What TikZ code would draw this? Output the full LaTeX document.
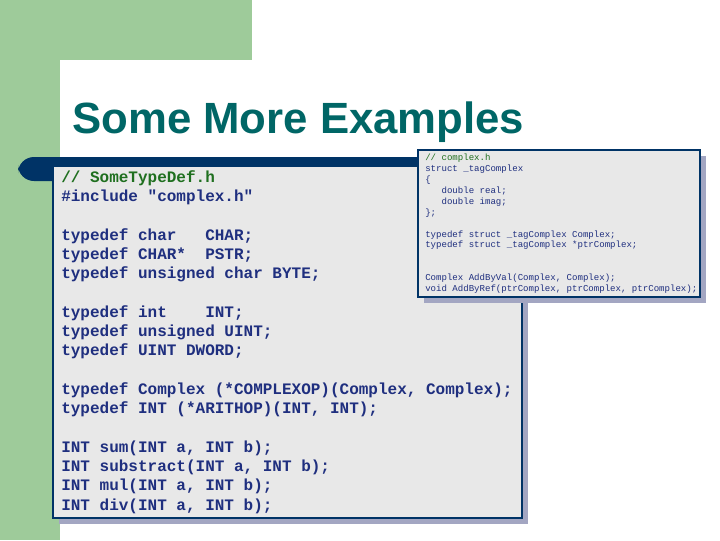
\documentclass[tikz,border=0pt]{standalone}
\usepackage{fontspec}
\setmainfont{Liberation Sans}
\newfontfamily\codefont{Liberation Mono}
\definecolor{sgreen}{HTML}{9ECB9A}
\definecolor{navy}{HTML}{003366}
\definecolor{teal}{HTML}{006666}
\definecolor{codeblue}{HTML}{1F2F7F}
\definecolor{cmtgreen}{HTML}{1F6F1F}
\definecolor{boxgray}{HTML}{E8E8E8}
\definecolor{shadow}{HTML}{A3A6C2}
\begin{document}
\begin{tikzpicture}[x=0.75pt,y=-0.75pt,
  big/.style={anchor=west,inner sep=0pt,font=\codefont\bfseries\fontsize{12}{12}\selectfont,text=codeblue},
  small/.style={anchor=west,inner sep=0pt,font=\codefont\fontsize{6.8}{6.8}\selectfont,text=codeblue},
  panel/.style={fill=boxgray,draw=navy,line width=0.8pt},
  shade/.style={fill=shadow}]
\useasboundingbox (0,0) rectangle (720,540);
\fill[white] (0,0) rectangle (720,540);
\fill[sgreen] (0,0) rectangle (252,60);
\fill[sgreen] (0,0) rectangle (60,540);
\fill[white,rounded corners=18pt] (60,60) rectangle (760,600);
\node[anchor=base west,inner sep=0pt,text=teal,font=\bfseries\fontsize{32.8}{33}\selectfont] (title) at (72,133) {Some More Examples};
\fill[navy,rounded corners=12pt] (18,157) rectangle (520,181);
% big box
\fill[shade] (59,172) rectangle (528,524);
\draw[panel] (53,166) rectangle (522,518);
\foreach \i/\t in {1/{\#include "complex.h"},3/{typedef char\ \ \ CHAR;},4/{typedef CHAR*\ \ PSTR;},5/{typedef unsigned char BYTE;},7/{typedef int\ \ \ \ INT;},8/{typedef unsigned UINT;},9/{typedef UINT DWORD;},11/{typedef Complex (*COMPLEXOP)(Complex, Complex);},12/{typedef INT (*ARITHOP)(INT, INT);},14/{INT sum(INT a, INT b);},15/{INT substract(INT a, INT b);},16/{INT mul(INT a, INT b);},17/{INT div(INT a, INT b);}}
  \node[big] (b\i) at (61,{178+19.3*\i}) {\t};
\node[big,text=cmtgreen] (b0) at (61,178) {// SomeTypeDef.h};
% small box
\fill[shade] (424,156) rectangle (706,303);
\draw[panel] (418,150) rectangle (700,297);
\node[small,text=cmtgreen] (s0) at (425,158) {// complex.h};
\foreach \i/\t in {1/{struct \_tagComplex},2/{\{},3/{\ \ \ double real;},4/{\ \ \ double imag;},5/{\};},7/{typedef struct \_tagComplex Complex;},8/{typedef struct \_tagComplex *ptrComplex;},11/{Complex AddByVal(Complex, Complex);},12/{void AddByRef(ptrComplex, ptrComplex, ptrComplex);}}
  \node[small] (s\i) at (425,{158+10.95*\i}) {\t};
\end{tikzpicture}
\end{document}
